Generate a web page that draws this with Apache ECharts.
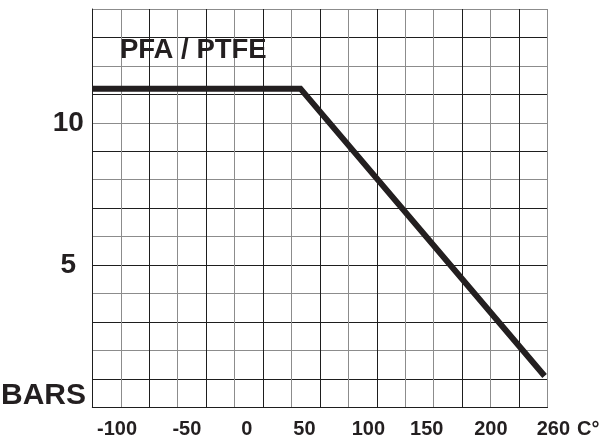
<!DOCTYPE html>
<html><head><meta charset="utf-8">
<script src="https://cdn.jsdelivr.net/npm/echarts@6/dist/echarts.min.js"></script>
<style>html,body{margin:0;padding:0;background:#fff}#c{width:603px;height:441px}</style>
</head><body><div id="c"></div>
<script>
// ---- data ----
const temperatures = [-129, 50, 260];
const pressures = [11.2, 11.2, 1.1];
const xTickLabels = [-100, -50, 0, 50, 100, 150, 200, 260];
const yTickLabels = [5, 10];
const xRange = [-129, 262.5];
const yRange = [0, 14];
const chartLabel = 'PFA / PTFE';
const yAxisName = 'BARS';
const xAxisName = 'C°';

// ---- styles ----
const ink = '#231f20';
const dark = '#1e1e1e';
const gray = '#8c8c8c';
const font = '"Liberation Sans", Arial, sans-serif';
const xLabelShift = [-9, 2.7, 4.5, 4, 9.8, 10, 16, 8.8];
const vColors = [dark, gray, dark, gray, dark, gray, dark, gray, dark, gray, dark, gray, gray, dark, gray, dark, gray];
const hColors = [gray, dark];

const rich = {};
xTickLabels.forEach((v, i) => {
  const d = xLabelShift[i];
  rich['s' + i] = {
    fontSize: 20, fontWeight: 'bold', fontFamily: font, color: ink,
    padding: d >= 0 ? [0, 0, 0, 2 * d] : [0, -2 * d, 0, 0]
  };
});

const chart = echarts.init(document.getElementById('c'), null, {renderer: 'canvas'});
chart.setOption({
  animation: false,
  backgroundColor: '#fff',
  title: [
    {text: chartLabel, left: 115, top: 31,
     textStyle: {fontSize: 27.5, fontWeight: 'bold', fontFamily: font, color: ink}},
    {text: yAxisName, left: 1, top: 381, padding: 0,
     textStyle: {fontSize: 30, fontWeight: 'bold', fontFamily: font, color: ink}},
    {text: xAxisName, left: 577, top: 419, padding: 0,
     textStyle: {fontSize: 20, fontWeight: 'bold', fontFamily: font, color: ink}}
  ],
  grid: {left: 92.3, right: 55.5, top: 9, bottom: 33.7, containLabel: false},
  xAxis: {
    type: 'value', min: xRange[0], max: xRange[1],
    interval: (xRange[1] - xRange[0]) / 16,
    axisLine: {show: true, onZero: false, lineStyle: {color: dark, width: 1}},
    axisTick: {show: false},
    axisLabel: {
      customValues: xTickLabels, margin: 12, showMinLabel: true, showMaxLabel: true,
      fontSize: 20, fontWeight: 'bold', fontFamily: font, color: ink,
      formatter: (v) => { const i = xTickLabels.indexOf(v); return '{s' + i + '|' + v + '}'; },
      rich: rich
    },
    splitLine: {show: true, lineStyle: {color: vColors, width: 1}}
  },
  yAxis: {
    type: 'value', min: yRange[0], max: yRange[1], interval: 1,
    axisLine: {show: true, onZero: false, lineStyle: {color: dark, width: 1}},
    axisTick: {show: false},
    axisLabel: {
      customValues: yTickLabels, margin: 24, align: 'center',
      fontSize: 28, fontWeight: 'bold', fontFamily: font, color: ink
    },
    splitLine: {show: true, lineStyle: {color: hColors, width: 1}}
  },
  series: [{
    type: 'line', name: chartLabel,
    data: temperatures.map((t, i) => [t, pressures[i]]),
    showSymbol: false, symbol: 'none',
    lineStyle: {color: ink, width: 6, join: 'miter', cap: 'butt'},
    z: 5
  }]
});
</script></body></html>
